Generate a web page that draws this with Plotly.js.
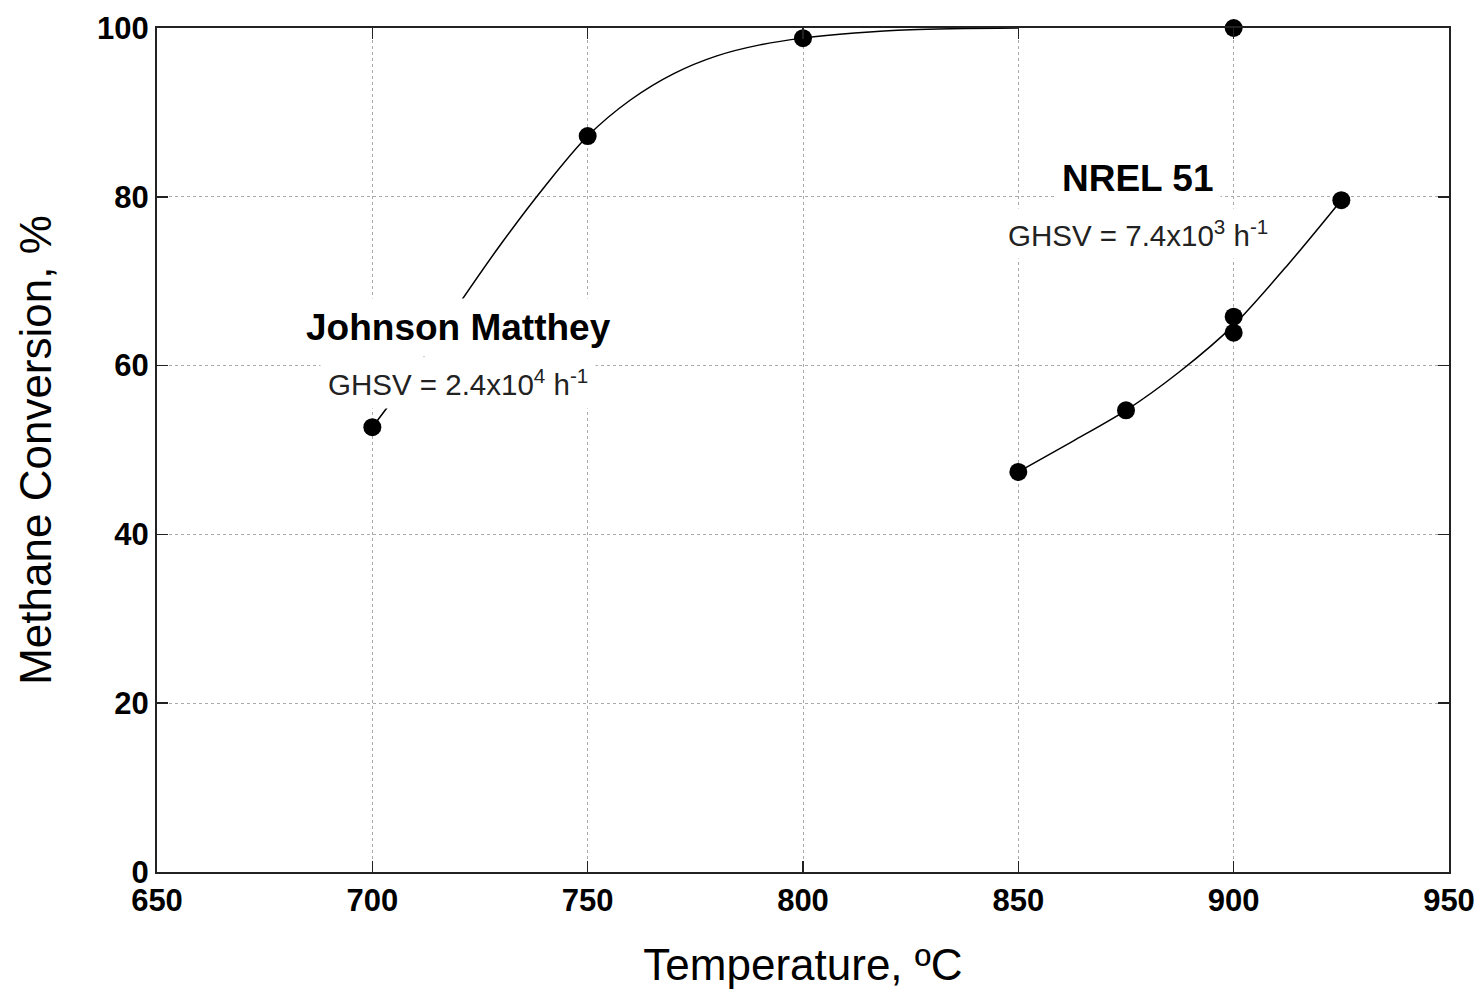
<!DOCTYPE html>
<html>
<head>
<meta charset="utf-8">
<script src="https://cdn.plot.ly/plotly-3.0.1.min.js"></script>
<style>html,body{margin:0;padding:0;background:#fff;}#chart{width:1479px;height:990px;}</style>
</head>
<body>
<div id="chart"></div>
<script>
// Measured points
const jmTemp = [700, 750, 800, 900];
const jmConv = [52.7, 87.2, 98.8, 100];
const nrelTemp = [850, 875, 900, 900, 925];
const nrelConv = [47.4, 54.7, 65.8, 63.9, 79.6];

// Fitted curves
const jmCurveTemp = [700, 710, 720, 730, 740, 750, 760, 770, 780, 790, 800, 812, 825, 850];
const jmCurveConv = [52.7, 59.6, 67.2, 74.5, 81.2, 87.2, 91.5, 94.6, 96.7, 98.0, 98.8, 99.4, 99.8, 100];
const nrelCurveTemp = [850, 862.5, 875, 887.5, 900, 912.5, 925];
const nrelCurveConv = [47.4, 51.0, 54.7, 59.3, 64.8, 71.9, 79.6];

const xTicks = [650, 700, 750, 800, 850, 900, 950];
const yTicks = [0, 20, 40, 60, 80, 100];

const FONT = 'Arial, "Liberation Sans", sans-serif';

const traces = [
  {x: jmCurveTemp, y: jmCurveConv, mode: 'lines', line: {color: '#000', width: 1.5, shape: 'spline', smoothing: 0.9}, hoverinfo: 'skip', cliponaxis: false},
  {x: nrelCurveTemp, y: nrelCurveConv, mode: 'lines', line: {color: '#000', width: 1.5, shape: 'spline', smoothing: 0.8}, hoverinfo: 'skip'},
  {x: jmTemp, y: jmConv, mode: 'markers', marker: {color: '#000', size: 18}, cliponaxis: false},
  {x: nrelTemp, y: nrelConv, mode: 'markers', marker: {color: '#000', size: 18}, cliponaxis: false}
];

const axisCommon = {
  showline: true, linecolor: '#222', linewidth: 2, mirror: 'ticks',
  ticks: 'inside', ticklen: 11, tickwidth: 1.5, tickcolor: '#222',
  showgrid: true, gridcolor: '#aaa', gridwidth: 1, griddash: 'dot',
  zeroline: false,
  tickfont: {family: FONT, size: 31, color: '#000', weight: 'bold'}
};

const layout = {
  width: 1479, height: 990,
  margin: {l: 157, r: 30, t: 28, b: 118},
  paper_bgcolor: '#fff', plot_bgcolor: '#fff',
  showlegend: false,
  font: {family: FONT, color: '#000'},
  xaxis: Object.assign({}, axisCommon, {
    range: [650, 950], tickvals: xTicks, ticktext: xTicks.map(String),
    title: {text: 'Temperature, ºC', font: {family: FONT, size: 44, color: '#000'}, standoff: 32}
  }),
  yaxis: Object.assign({}, axisCommon, {
    range: [0, 100], tickvals: yTicks, ticktext: yTicks.map(String),
    title: {text: 'Methane Conversion, %', font: {family: FONT, size: 44, color: '#000'}, standoff: 32}
  }),
  annotations: [
    {x: 719.9, y: 64.5, xref: 'x', yref: 'y', text: '<b>Johnson Matthey</b>', showarrow: false,
     font: {family: FONT, size: 37, color: '#000'}, bgcolor: '#fff', borderpad: 8},
    {x: 719.9, y: 58.0, xref: 'x', yref: 'y', text: 'GHSV = 2.4x10<sup>4</sup> h<sup>-1</sup>', showarrow: false,
     font: {family: FONT, size: 29.5, color: '#222'}, bgcolor: '#fff', borderpad: 7},
    {x: 877.8, y: 82.2, xref: 'x', yref: 'y', text: '<b>NREL 51</b>', showarrow: false,
     font: {family: FONT, size: 37, color: '#000'}, bgcolor: '#fff', borderpad: 6},
    {x: 877.8, y: 75.6, xref: 'x', yref: 'y', text: 'GHSV = 7.4x10<sup>3</sup> h<sup>-1</sup>', showarrow: false,
     font: {family: FONT, size: 29.5, color: '#222'}, bgcolor: '#fff', borderpad: 6}
  ]
};

Plotly.newPlot('chart', traces, layout, {displayModeBar: false, staticPlot: true});
</script>
</body>
</html>
